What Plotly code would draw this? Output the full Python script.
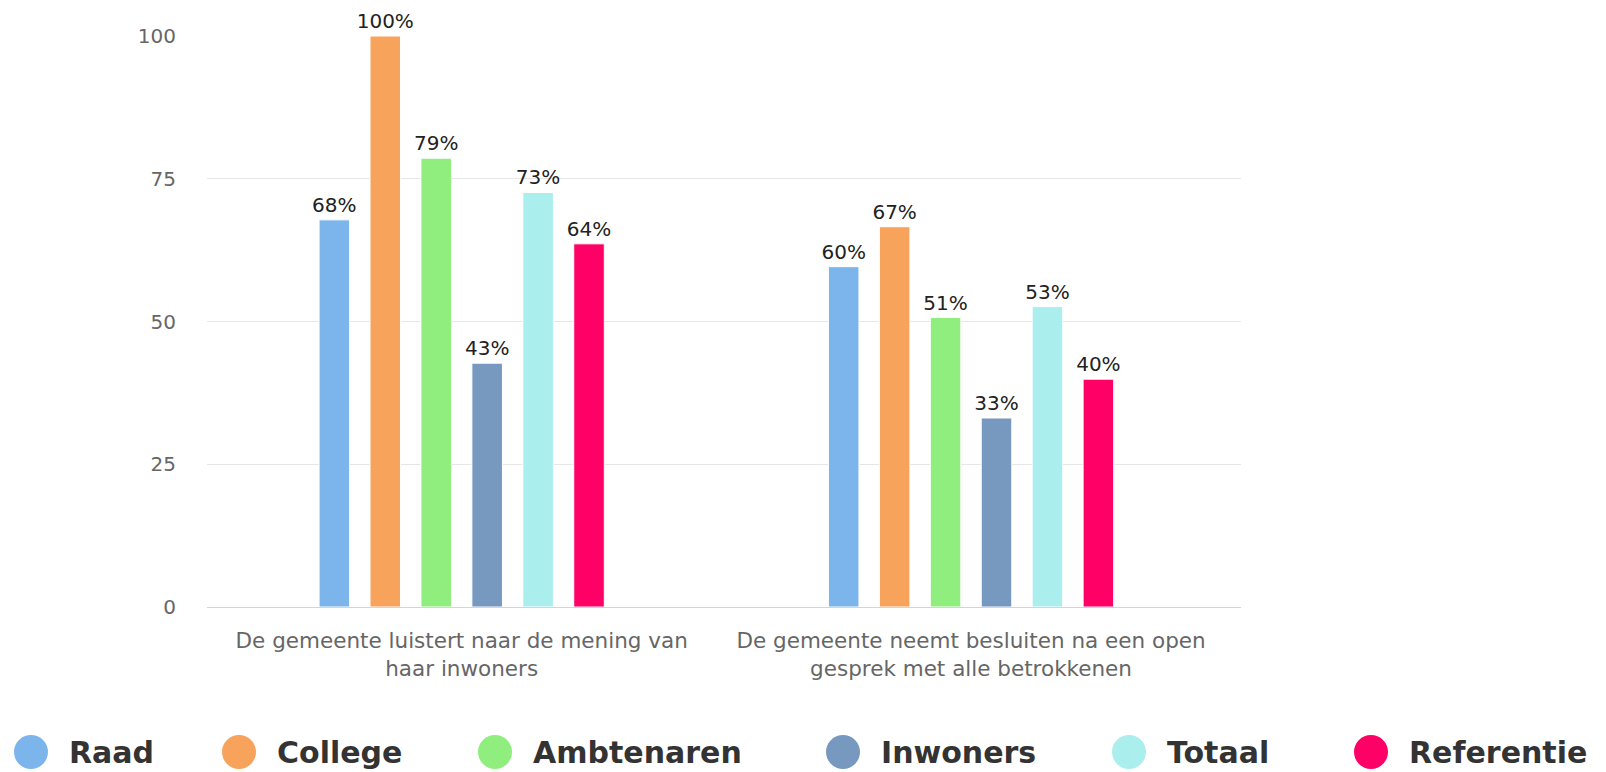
import plotly.graph_objects as go

# ---- data ----
categories = [
    "De gemeente luistert naar de mening van<br>haar inwoners",
    "De gemeente neemt besluiten na een open<br>gesprek met alle betrokkenen",
]
series_names = ["Raad", "College", "Ambtenaren", "Inwoners", "Totaal", "Referentie"]
raad = [67.8, 59.6]
college = [100, 66.6]
ambtenaren = [78.6, 50.7]
inwoners = [42.7, 33.1]
totaal = [72.6, 52.6]
referentie = [63.6, 39.9]
y_ticks = [0, 25, 50, 75, 100]

series_values = [raad, college, ambtenaren, inwoners, totaal, referentie]
colors = ["#7cb5ec", "#f7a35c", "#90ee7e", "#7798BF", "#aaeeee", "#ff0066"]

FONT = "DejaVu Sans"
W, H = 1606, 772
ML, MR, MT, MB = 207, 365, 36, 165
PW, PH = W - ML - MR, H - MT - MB

fig = go.Figure()
for name, vals, col in zip(series_names, series_values, colors):
    fig.add_trace(go.Bar(
        name=name, x=categories, y=vals,
        marker=dict(color=col, line=dict(color="#ffffff", width=1)),
        texttemplate="%{y:.0f}%", textposition="outside",
        textfont=dict(family=FONT, size=20, color="#222222"),
        constraintext="none", cliponaxis=False, showlegend=False,
    ))

# custom legend (large circles + bold names), positioned in pixels
legend_circle_px = [31, 239, 495, 843, 1129, 1371]
legend_y_px = 752
shapes, annotations = [], []
for name, col, cx in zip(series_names, colors, legend_circle_px):
    xp = (cx - ML) / PW
    yp = (MT + PH - legend_y_px) / PH
    shapes.append(dict(
        type="circle", xref="paper", yref="paper",
        xsizemode="pixel", ysizemode="pixel", xanchor=xp, yanchor=yp,
        x0=-17, x1=17, y0=-17, y1=17,
        fillcolor=col, line=dict(width=0), layer="above",
    ))
    annotations.append(dict(
        xref="paper", yref="paper", x=(cx + 36 - ML) / PW, y=yp,
        xanchor="left", yanchor="middle", showarrow=False,
        text="<b>%s</b>" % name,
        font=dict(family=FONT, size=30, color="#333333"),
    ))

fig.update_layout(
    width=W, height=H,
    margin=dict(l=ML, r=MR, t=MT, b=MB, pad=0),
    paper_bgcolor="#ffffff", plot_bgcolor="#ffffff",
    barmode="group", bargap=0.40, bargroupgap=0.40,
    font=dict(family=FONT),
    shapes=shapes, annotations=annotations,
    xaxis=dict(
        type="category", range=[-0.5, 1.53],
        showline=True, linecolor="#ccd6eb", linewidth=1,
        showgrid=False, ticks="", ticklabelstandoff=14,
        tickfont=dict(family=FONT, size=21.5, color="#666666"),
    ),
    yaxis=dict(
        range=[0, 100], tickmode="array", tickvals=y_ticks,
        showgrid=True, gridcolor="#e6e6e6", gridwidth=1,
        zeroline=False, showline=False, ticks="", ticklabelstandoff=30,
        tickfont=dict(family=FONT, size=20, color="#666666"),
    ),
)

fig.write_html(
    "out.html",
    config={"displayModeBar": False},
    post_script="document.body.style.margin='0';document.body.style.overflow='hidden';",
)
